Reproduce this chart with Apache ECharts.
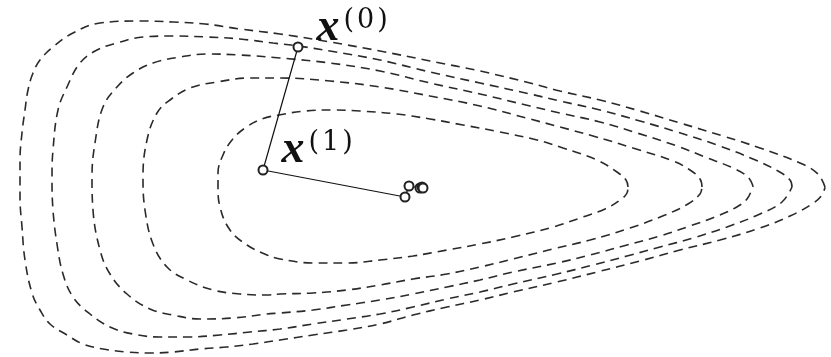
<!DOCTYPE html>
<html>
<head>
<meta charset="utf-8">
<script src="https://cdn.jsdelivr.net/npm/echarts@6/dist/echarts.min.js"></script>
<style>
  html, body { margin: 0; padding: 0; background: #fff; }
  #chart { width: 831px; height: 357px; }
</style>
</head>
<body>
<div id="chart"></div>
<script>
  // level curves (x, y in picture units, y grows downward)
  // each one starts at the right tip, runs along the upper branch, round the left side and back
  let level1 = [[628,187],[626,180],[617,172],[597,160],[563,148],[537,140],[500,132],[463,125],[430,119],[397,114],[360,111],[333,110],[305,111],[279,115],[262,119],[245,128],[232,140],[223,155],[218,173],[218,187],[220,207],[230,230],[247,245],[267,255],[280,259],[313,263],[347,263],[380,260],[413,256],[447,250],[480,244],[513,237],[553,227],[583,217],[605,209],[620,200],[627,193],[628,187]];
  let level2 = [[702,187],[700,179],[690,170],[673,161],[633,148],[593,136],[560,127],[530,119],[480,106],[430,96],[380,87],[330,81],[280,78],[250,78],[217,82],[190,88],[170,100],[157,113],[147,140],[143,177],[145,210],[153,244],[167,267],[187,280],[213,290],[240,294],[267,295],[280,294],[313,293],[347,290],[380,285],[413,279],[447,274],[480,267],[513,259],[553,249],[590,240],[630,228],[665,215],[688,204],[700,194],[702,187]];
  let level3 = [[753,186],[748,177],[733,168],[705,157],[677,146],[637,133],[600,122],[560,113],[530,106],[480,94],[430,83],[380,71],[330,63],[280,58],[240,55],[207,54],[180,57],[153,63],[133,73],[117,87],[103,107],[95,143],[92,177],[93,210],[100,250],[110,274],[127,294],[150,309],[173,315],[200,319],[233,318],[267,314],[280,313],[313,310],[347,305],[380,300],[413,294],[447,287],[480,280],[513,272],[557,263],[590,255],[627,245],[660,236],[690,226],[715,217],[735,208],[747,199],[753,186]];
  let level4 = [[792,187],[790,180],[778,171],[753,159],[717,145],[677,132],[640,121],[600,110],[560,101],[530,94],[480,83],[430,72],[380,60],[330,51],[298,46],[273,43],[240,39],[207,37],[173,36],[143,37],[117,43],[97,50],[80,63],[67,87],[58,110],[53,150],[52,177],[53,210],[57,244],[63,274],[73,297],[90,314],[110,327],[133,334],[160,337],[187,337],[220,335],[250,332],[280,329],[313,324],[347,319],[380,314],[413,307],[447,299],[480,292],[513,284],[557,274],[593,265],[627,256],[660,247],[693,238],[727,227],[760,214],[782,202],[792,187]];
  let level5 = [[825,187],[818,174],[800,163],[760,148],[723,136],[680,123],[640,111],[600,100],[560,91],[530,83],[480,71],[430,61],[380,51],[330,42],[280,34],[240,29],[205,24],[173,22],[140,21],[100,23],[73,33],[53,47],[40,60],[33,73],[28,90],[25,110],[22,133],[20,160],[20,177],[20,197],[22,227],[25,260],[32,293],[40,310],[50,324],[67,335],[83,344],[103,349],[127,352],[150,353],[173,352],[200,349],[227,347],[253,344],[280,340],[313,335],[347,330],[380,324],[413,315],[447,307],[480,300],[513,292],[557,282],[597,272],[640,261],[680,250],[720,240],[760,228],[790,216],[812,204],[822,195],[825,187]];

  // gradient steps x(0), x(1), ...
  let iterX = [298, 263, 405, 409, 420, 422, 423];
  let iterY = [47, 170, 197, 186, 188, 187, 188];
  let iterNames = ['0', '1'];

  let myChart = echarts.init(document.getElementById('chart'), null, { renderer: 'canvas' });

  let levels = [level1, level2, level3, level4, level5];
  let contourSeries = levels.map(function (pts) {
    return {
      type: 'line',
      data: pts,
      symbol: 'none',
      smooth: 0.4,
      silent: true,
      lineStyle: {
        color: '#2a2a2a',
        width: 1.6,
        type: [9, 6]
      }
    };
  });

  let stepData = iterX.map(function (x, i) {
    let item = { value: [x, iterY[i]] };
    if (i < iterNames.length) {
      item.label = {
        show: true,
        position: 'right',
        distance: 4,
        offset: i === 0 ? [9, -18] : [9, -19],
        formatter: '{x|x}{p|(}{d|' + iterNames[i] + '}{s|)}'
      };
    }
    return item;
  });

  let supStyle = {
    fontFamily: '"DejaVu Serif", serif',
    fontSize: 27,
    lineHeight: 25,
    verticalAlign: 'top'
  };

  let option = {
    animation: false,
    backgroundColor: '#fff',
    grid: { left: 0, right: 0, top: 0, bottom: 0 },
    xAxis: { type: 'value', min: 0, max: 831, show: false },
    yAxis: { type: 'value', min: 0, max: 357, inverse: true, show: false },
    series: contourSeries.concat([{
      type: 'line',
      data: stepData,
      symbol: 'emptyCircle',
      symbolSize: 9,
      z: 5,
      lineStyle: { color: '#111', width: 1.2 },
      itemStyle: { color: '#222', borderWidth: 1.2 },
      label: {
        color: '#111',
        rich: {
          x: {
            fontFamily: '"Liberation Serif", serif',
            fontStyle: 'italic',
            fontWeight: 'bold',
            fontSize: 46,
            lineHeight: 44,
            verticalAlign: 'bottom'
          },
          p: Object.assign({}, supStyle, { padding: [0, 1, 0, 4] }),
          d: Object.assign({}, supStyle, { padding: [0, 2, 0, 2] }),
          s: Object.assign({}, supStyle, { padding: [0, 0, 0, 1] })
        }
      }
    }])
  };
  myChart.setOption(option);
</script>
</body>
</html>
